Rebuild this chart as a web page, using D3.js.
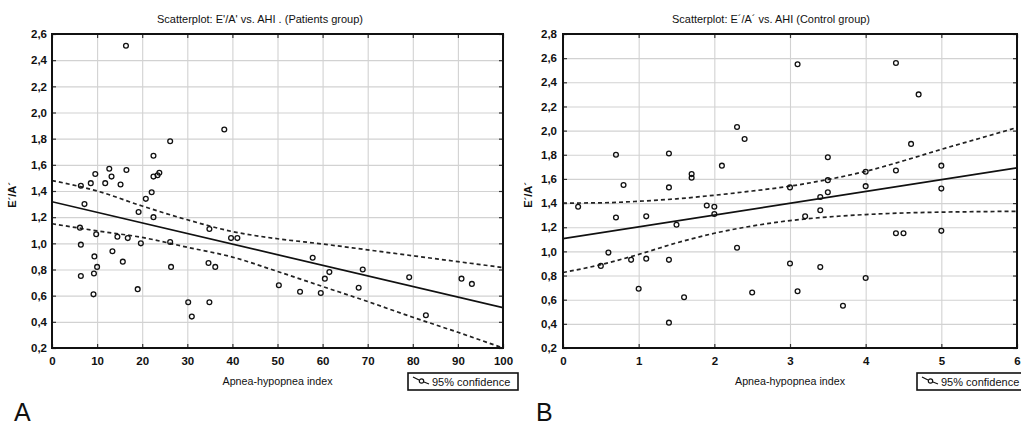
<!DOCTYPE html>
<html><head><meta charset="utf-8">
<script src="https://cdn.jsdelivr.net/npm/d3@7"></script>
<style>
body{margin:0;background:#fff;overflow:hidden;}
svg{display:block;font-family:"Liberation Sans",Arial,sans-serif;}
</style></head><body>
<svg id="c" width="1021" height="425"></svg>
<script>
// ---------- Panel A: Patients group ----------
const patientsTitle = "Scatterplot: E'/A' vs. AHI . (Patients group)";
const patientsAHI = [16.4,38.2,26.2,22.5,12.7,16.5,9.6,13.2,22.5,23.4,23.8,6.4,8.6,11.8,15.2,22.1,20.8,7.2,19.2,22.5,
  6.2,6.4,9.8,14.5,16.8,19.7,26.2,34.9,39.7,41.1,13.4,9.4,15.7,10.0,9.3,6.4,26.4,34.7,36.2,19.0,9.2,30.2,34.9,31.0,
  50.3,55.0,59.6,57.8,60.5,61.5,68.0,68.9,79.2,82.9,90.8,93.1];
const patientsEA = [2.51,1.87,1.78,1.67,1.57,1.56,1.53,1.51,1.51,1.52,1.54,1.44,1.46,1.46,1.45,1.39,1.34,1.30,1.24,1.20,
  1.12,0.99,1.07,1.05,1.04,1.00,1.01,1.11,1.04,1.04,0.94,0.90,0.86,0.82,0.77,0.75,0.82,0.85,0.82,0.65,0.61,0.55,0.55,0.44,
  0.68,0.63,0.62,0.89,0.73,0.78,0.66,0.80,0.74,0.45,0.73,0.69];
const patientsFitX = [0, 100];
const patientsFitY = [1.318, 0.508];
const patientsCIX = [0,10,20,30,40,50,60,70,80,90,100];
const patientsCIUpper = [1.48,1.40,1.285,1.18,1.09,1.035,0.995,0.95,0.905,0.86,0.815];
const patientsCILower = [1.15,1.095,1.045,0.97,0.895,0.785,0.67,0.555,0.435,0.32,0.20];
const patientsXTicks = [0,10,20,30,40,50,60,70,80,90,100];
const patientsYTicks = [0.2,0.4,0.6,0.8,1.0,1.2,1.4,1.6,1.8,2.0,2.2,2.4,2.6];

// ---------- Panel B: Control group ----------
const controlTitle = "Scatterplot: E´/A´ vs. AHI (Control group)";
const controlAHI = [0.2,0.5,0.6,0.7,0.7,0.8,0.9,1.0,1.1,1.1,1.4,1.4,1.4,1.4,1.5,1.6,1.7,1.7,1.9,2.0,2.0,2.1,2.3,2.3,2.4,
  2.5,3.0,3.0,3.1,3.1,3.2,3.4,3.4,3.4,3.5,3.5,3.5,3.7,4.0,4.0,4.0,4.4,4.4,4.4,4.5,4.6,4.7,5.0,5.0,5.0];
const controlEA = [1.37,0.88,0.99,1.80,1.28,1.55,0.93,0.69,1.29,0.94,1.81,1.53,0.93,0.41,1.22,0.62,1.64,1.61,1.38,1.37,1.31,
  1.71,2.03,1.03,1.93,0.66,1.53,0.90,2.55,0.67,1.29,1.45,1.34,0.87,1.78,1.59,1.49,0.55,1.66,1.54,0.78,2.56,1.67,1.15,1.15,
  1.89,2.30,1.71,1.52,1.17];
const controlFitX = [0, 6];
const controlFitY = [1.105, 1.691];
const controlCIX = [0,0.5,1,1.5,2,2.5,3,3.5,4,4.5,5,5.5,6];
const controlCIUpper = [1.40,1.402,1.415,1.435,1.465,1.50,1.54,1.595,1.663,1.75,1.845,1.935,2.025];
const controlCILower = [0.825,0.89,0.975,1.07,1.15,1.21,1.255,1.285,1.305,1.318,1.325,1.329,1.332];
const controlXTicks = [0,1,2,3,4,5,6];
const controlYTicks = [0.2,0.4,0.6,0.8,1.0,1.2,1.4,1.6,1.8,2.0,2.2,2.4,2.6,2.8];

const xTitle = "Apnea-hypopnea index";
const yTitle = "E´/A´";
const legendLabel = "95% confidence";

const svg = d3.select("#c");
const locale = d3.formatLocale({decimal: ",", thousands: ".", grouping: [3], currency: ["", ""]});
const fmt1 = locale.format(".1f");
const fmt0 = locale.format("d");

function drawPanel(p) {
  const g = svg.append("g");
  const x = d3.scaleLinear().domain(p.xDomain).range([p.left, p.right]);
  const y = d3.scaleLinear().domain(p.yDomain).range([p.bottom, p.top]);
  const h = p.bottom - p.top, w = p.right - p.left;

  // grid
  const gx = g.append("g").attr("transform", `translate(0,${p.bottom})`)
    .call(d3.axisBottom(x).tickValues(p.xTicks).tickSize(-h).tickFormat(""));
  const gy = g.append("g").attr("transform", `translate(${p.left},0)`)
    .call(d3.axisLeft(y).tickValues(p.yTicks).tickSize(-w).tickFormat(""));
  [gx, gy].forEach(a => {
    a.select(".domain").remove();
    a.selectAll("line").attr("stroke", "#d2d2d2").attr("stroke-width", 1.1);
  });

  const clipId = "clip" + p.id;
  g.append("clipPath").attr("id", clipId).append("rect")
    .attr("x", p.left).attr("y", p.top).attr("width", w).attr("height", h);

  const line = d3.line().x(d => x(d[0])).y(d => y(d[1])).curve(d3.curveMonotoneX);
  const lines = g.append("g").attr("clip-path", `url(#${clipId})`);
  lines.append("path").datum(p.ciX.map((v, i) => [v, p.ciUp[i]]))
    .attr("d", line).attr("fill", "none").attr("stroke", "#222").attr("stroke-width", 1.7).attr("stroke-dasharray", "4,3");
  lines.append("path").datum(p.ciX.map((v, i) => [v, p.ciLo[i]]))
    .attr("d", line).attr("fill", "none").attr("stroke", "#222").attr("stroke-width", 1.7).attr("stroke-dasharray", "4,3");
  lines.append("path").datum(p.fitX.map((v, i) => [v, p.fitY[i]]))
    .attr("d", d3.line().x(d => x(d[0])).y(d => y(d[1]))).attr("fill", "none").attr("stroke", "#111").attr("stroke-width", 1.7);

  // points
  g.append("g").selectAll("circle").data(p.xs.map((v, i) => [v, p.ys[i]])).join("circle")
    .attr("cx", d => x(d[0])).attr("cy", d => y(d[1])).attr("r", 2.4)
    .attr("fill", "none").attr("stroke", "#111").attr("stroke-width", 1.3);

  // axes with inward ticks
  const ax = g.append("g").attr("transform", `translate(0,${p.bottom})`)
    .call(d3.axisBottom(x).tickValues(p.xTicks).tickSize(-4).tickPadding(9).tickFormat(fmt0));
  const ay = g.append("g").attr("transform", `translate(${p.left},0)`)
    .call(d3.axisLeft(y).tickValues(p.yTicks).tickSize(-4).tickPadding(p.yPad).tickFormat(fmt1));
  const at = g.append("g").attr("transform", `translate(0,${p.top})`)
    .call(d3.axisTop(x).tickValues(p.xTicks).tickSize(-4).tickFormat(""));
  const ar = g.append("g").attr("transform", `translate(${p.right},0)`)
    .call(d3.axisRight(y).tickValues(p.yTicks).tickSize(-4).tickFormat(""));
  [ax, ay, at, ar].forEach(a => {
    a.select(".domain").remove();
    a.selectAll("line").attr("stroke", "#333").attr("stroke-width", 1.2);
    a.selectAll("text").attr("fill", "#111").attr("font-size", 11.5).attr("font-weight", "bold").attr("font-family", null);
  });

  // frame
  g.append("rect").attr("x", p.left).attr("y", p.top).attr("width", w).attr("height", h)
    .attr("fill", "none").attr("stroke", "#111").attr("stroke-width", 2);

  // titles
  g.append("text").attr("x", p.titleX).attr("y", 23).attr("text-anchor", "middle")
    .attr("font-size", 11).attr("fill", "#111").attr("textLength", p.titleW).attr("lengthAdjust", "spacingAndGlyphs")
    .text(p.title);
  g.append("text").attr("x", (p.left + p.right) / 2).attr("y", 385).attr("text-anchor", "middle")
    .attr("font-size", 11).attr("fill", "#111").attr("textLength", 110).attr("lengthAdjust", "spacingAndGlyphs")
    .text(xTitle);
  g.append("text").attr("transform", `translate(${p.yTitleX},195) rotate(-90)`).attr("text-anchor", "middle")
    .attr("font-size", 11).attr("font-weight", "bold").attr("fill", "#111").text(yTitle);

  // legend
  const lg = g.append("g").attr("transform", `translate(${p.legX},373)`);
  lg.append("rect").attr("x", 0).attr("y", 0).attr("width", 110).attr("height", 17)
    .attr("fill", "#fff").attr("stroke", "#111").attr("stroke-width", 1.6);
  lg.append("path").attr("d", "M5,4 L11,7 M16,9 L21,11").attr("stroke", "#111").attr("stroke-width", 1.3).attr("fill", "none");
  lg.append("circle").attr("cx", 13.5).attr("cy", 8).attr("r", 2.2).attr("fill", "none").attr("stroke", "#111").attr("stroke-width", 1.2);
  lg.append("text").attr("x", 24).attr("y", 12.5).attr("font-size", 11).attr("fill", "#111").text(legendLabel);

  // panel letter
  svg.append("text").attr("x", p.letterX).attr("y", 421).attr("font-size", 25).attr("fill", "#111").text(p.letter);
}

drawPanel({
  id: "A", title: patientsTitle, xs: patientsAHI, ys: patientsEA,
  fitX: patientsFitX, fitY: patientsFitY, ciX: patientsCIX, ciUp: patientsCIUpper, ciLo: patientsCILower,
  xTicks: patientsXTicks, yTicks: patientsYTicks, xDomain: [0, 100], yDomain: [0.2, 2.6],
  left: 52, right: 503, top: 34, bottom: 348, yPad: 5,
  titleX: 260, titleW: 206, yTitleX: 16, legX: 408, letter: "A", letterX: 14
});
drawPanel({
  id: "B", title: controlTitle, xs: controlAHI, ys: controlEA,
  fitX: controlFitX, fitY: controlFitY, ciX: controlCIX, ciUp: controlCIUpper, ciLo: controlCILower,
  xTicks: controlXTicks, yTicks: controlYTicks, xDomain: [0, 6], yDomain: [0.2, 2.8],
  left: 563, right: 1017, top: 34, bottom: 348, yPad: 6,
  titleX: 771, titleW: 198, yTitleX: 532, legX: 917, letter: "B", letterX: 536
});
</script>
</body></html>
